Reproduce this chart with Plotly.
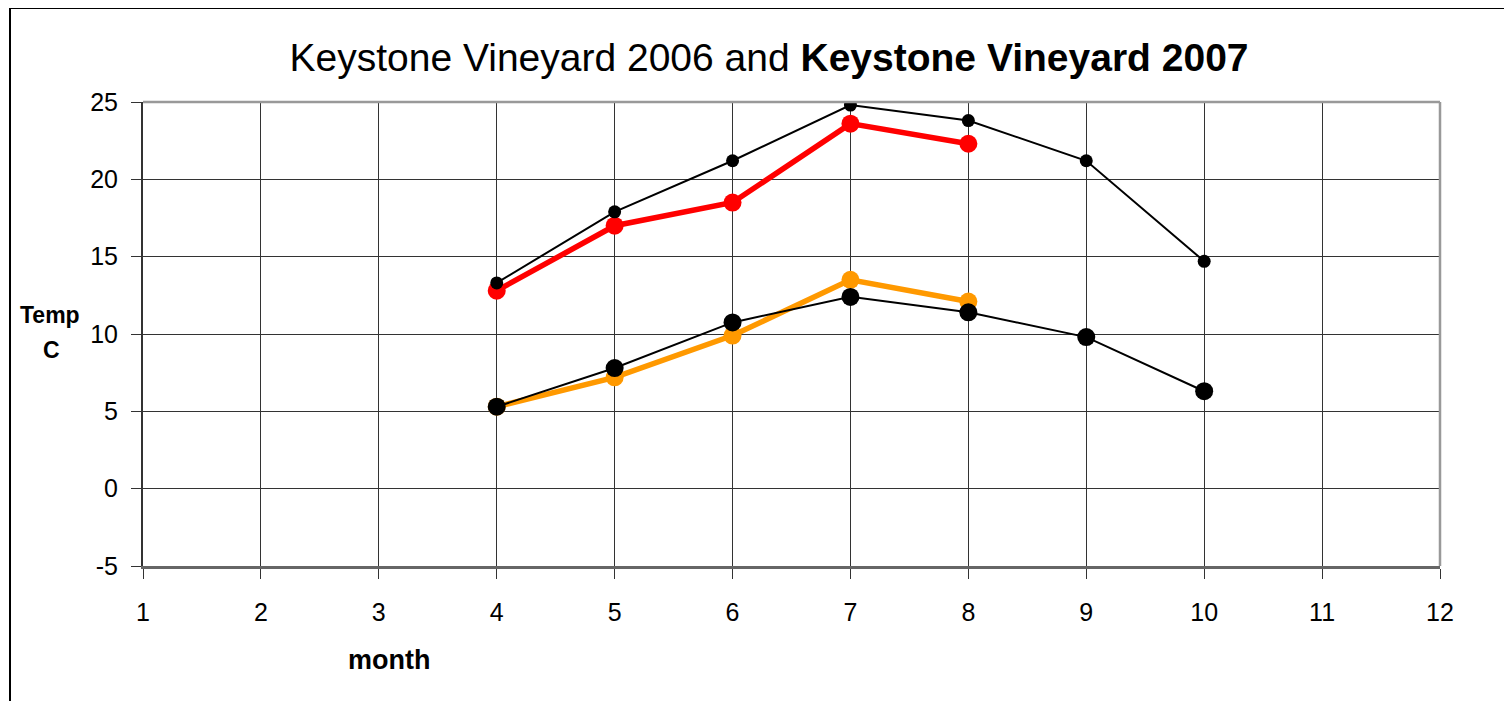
import plotly.graph_objects as go

months = [4, 5, 6, 7, 8, 9, 10]
months_2007 = [4, 5, 6, 7, 8]
high_2006 = [13.3, 17.9, 21.2, 24.8, 23.8, 21.2, 14.7]
low_2006 = [5.3, 7.8, 10.75, 12.4, 11.4, 9.8, 6.3]
high_2007 = [12.8, 17.0, 18.5, 23.6, 22.3]
low_2007 = [5.3, 7.2, 9.9, 13.5, 12.1]
x_ticks = list(range(1, 13))
y_ticks = [-5, 0, 5, 10, 15, 20, 25]
y_tick_labels = ["-5", "0", "5", "10", "15", "20", "25"]

FONT = "Liberation Sans, Arial, sans-serif"

fig = go.Figure()
fig.add_trace(go.Scatter(x=months_2007, y=high_2007, mode="lines+markers",
                         line=dict(color="#ff0000", width=5.5),
                         marker=dict(color="#ff0000", size=18), name="2007 high"))
fig.add_trace(go.Scatter(x=months_2007, y=low_2007, mode="lines+markers",
                         line=dict(color="#ff9900", width=5.5),
                         marker=dict(color="#ff9900", size=18), name="2007 low"))
fig.add_trace(go.Scatter(x=months, y=high_2006, mode="lines+markers",
                         line=dict(color="#000000", width=2),
                         marker=dict(color="#000000", size=13), name="2006 high"))
fig.add_trace(go.Scatter(x=months, y=low_2006, mode="lines+markers",
                         line=dict(color="#000000", width=2),
                         marker=dict(color="#000000", size=18), name="2006 low"))

fig.update_layout(
    width=1512, height=701,
    margin=dict(l=135, r=80, t=94, b=143),
    paper_bgcolor="white", plot_bgcolor="white",
    showlegend=False,
    font=dict(family=FONT, color="black"),
    title=dict(text="Keystone Vineyard 2006 and <b>Keystone Vineyard 2007</b>",
               x=761 / 1512, xanchor="center", y=1 - 49 / 701, yanchor="middle",
               font=dict(size=39, family=FONT, color="black")),
    xaxis=dict(range=[1, 12], tickvals=x_ticks, showgrid=True, gridcolor="#333333",
               gridwidth=1, zeroline=False, showline=True, linecolor="#666666",
               linewidth=2.5, ticks="outside", ticklen=10, tickcolor="#333333",
               tickwidth=1, tickfont=dict(size=25, family=FONT, color="black"),
               ticklabelstandoff=12),
    yaxis=dict(range=[-5, 25], tickvals=y_ticks, ticktext=y_tick_labels,
               showgrid=True, gridcolor="#333333",
               gridwidth=1, zeroline=False, showline=True, linecolor="#333333",
               linewidth=2, ticks="outside", ticklen=10, tickcolor="#333333",
               tickwidth=1, tickfont=dict(size=25, family=FONT, color="black"),
               ticklabelstandoff=8),
    shapes=[
        dict(type="line", xref="paper", yref="paper", x0=0, x1=1, y0=1, y1=1,
             line=dict(color="#999999", width=2.5)),
        dict(type="line", xref="paper", yref="paper", x0=1, x1=1, y0=0, y1=1,
             line=dict(color="#999999", width=2.5)),
        dict(type="rect", xref="paper", yref="paper",
             x0=(10 - 143) / 1297, x1=(1525 - 143) / 1297,
             y0=(566 - 715) / 464, y1=(566 - 8) / 464,
             line=dict(color="black", width=2), layer="below"),
    ],
    annotations=[
        dict(text="<b>Temp</b>", xref="paper", yref="paper",
             x=(50 - 143) / 1297, y=(566 - 315) / 464, showarrow=False,
             xanchor="center", yanchor="middle",
             font=dict(size=23, family=FONT, color="black")),
        dict(text="<b>C</b>", xref="paper", yref="paper",
             x=(51 - 143) / 1297, y=(566 - 350) / 464, showarrow=False,
             xanchor="center", yanchor="middle",
             font=dict(size=23, family=FONT, color="black")),
        dict(text="<b>month</b>", xref="paper", yref="paper",
             x=(389 - 143) / 1297, y=(566 - 660) / 464, showarrow=False,
             xanchor="center", yanchor="middle",
             font=dict(size=27, family=FONT, color="black")),
    ],
)

fig.write_html("out.html")
